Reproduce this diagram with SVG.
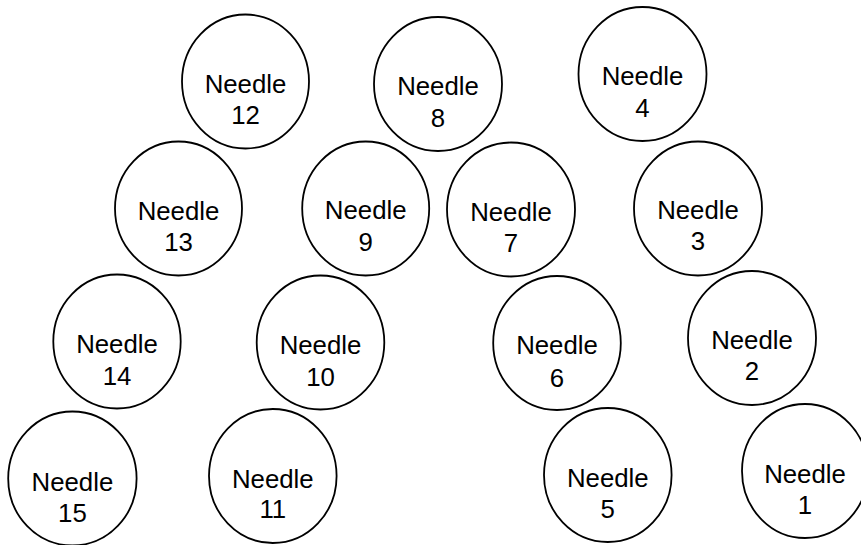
<svg xmlns="http://www.w3.org/2000/svg" width="861" height="545" viewBox="0 0 861 545">
<style>
ellipse{fill:#fff;stroke:#000;stroke-width:1.8}
text{font-family:"Liberation Sans",Arial,sans-serif;font-size:25.8px;fill:#000;text-anchor:middle}
</style>
<rect width="861" height="545" fill="#fff"/>
<g id="needle12"><ellipse cx="245.5" cy="81.5" rx="63.5" ry="67"/><text x="245.5" y="93">Needle</text><text x="245.5" y="124">12</text></g>
<g id="needle8"><ellipse cx="438" cy="84" rx="64" ry="67"/><text x="438" y="95">Needle</text><text x="438" y="126.5">8</text></g>
<g id="needle4"><ellipse cx="642.5" cy="74" rx="64" ry="67"/><text x="642.5" y="84.5">Needle</text><text x="642.5" y="117">4</text></g>
<g id="needle13"><ellipse cx="178.5" cy="208.5" rx="63.5" ry="67"/><text x="178.5" y="219.5">Needle</text><text x="178.5" y="251">13</text></g>
<g id="needle9"><ellipse cx="365.7" cy="208.5" rx="63.5" ry="67"/><text x="365.7" y="219">Needle</text><text x="365.7" y="250.7">9</text></g>
<g id="needle7"><ellipse cx="511" cy="209.5" rx="64" ry="67"/><text x="511" y="221">Needle</text><text x="511" y="252.3">7</text></g>
<g id="needle3"><ellipse cx="698" cy="208.5" rx="64" ry="67"/><text x="698" y="219">Needle</text><text x="698" y="250">3</text></g>
<g id="needle14"><ellipse cx="117" cy="341.5" rx="63.7" ry="67"/><text x="117" y="352.5">Needle</text><text x="117" y="385">14</text></g>
<g id="needle10"><ellipse cx="320.5" cy="342.5" rx="63.8" ry="67"/><text x="320.5" y="353.5">Needle</text><text x="320.5" y="385.7">10</text></g>
<g id="needle6"><ellipse cx="557" cy="343" rx="63.8" ry="67"/><text x="557" y="354.3">Needle</text><text x="557" y="386.7">6</text></g>
<g id="needle2"><ellipse cx="752" cy="338" rx="64" ry="67"/><text x="752" y="349">Needle</text><text x="752" y="380">2</text></g>
<g id="needle15"><ellipse cx="72.4" cy="478.5" rx="64.2" ry="67"/><text x="72.4" y="491">Needle</text><text x="72.4" y="521.7">15</text></g>
<g id="needle11"><ellipse cx="272.8" cy="476" rx="63.8" ry="67"/><text x="272.8" y="487.7">Needle</text><text x="272.8" y="518.3">11</text></g>
<g id="needle5"><ellipse cx="607.8" cy="475" rx="63.8" ry="67"/><text x="607.8" y="486.7">Needle</text><text x="607.8" y="518.3">5</text></g>
<g id="needle1"><ellipse cx="805" cy="471" rx="63" ry="67"/><text x="805" y="482.7">Needle</text><text x="805" y="514">1</text></g>
<g id="connectors"/>
</svg>
